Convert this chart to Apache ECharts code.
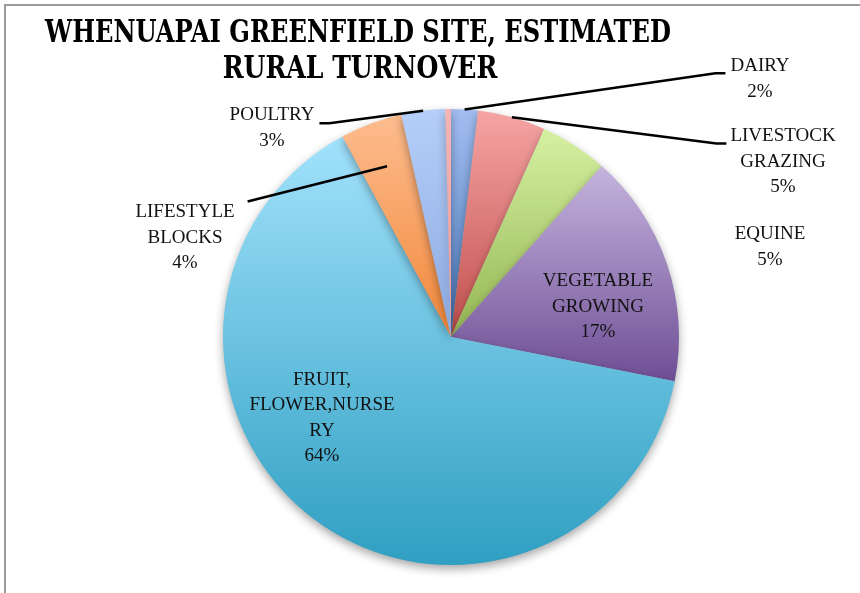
<!DOCTYPE html>
<html><head><meta charset="utf-8">
<script src="https://cdn.jsdelivr.net/npm/echarts@6/dist/echarts.min.js"></script>
<style>
html,body{margin:0;padding:0;background:#fff;}
#frame{position:absolute;left:4px;top:4px;width:900px;height:640px;border-left:2px solid #9a9a9a;border-top:2px solid #9a9a9a;}
#chart{position:absolute;left:0;top:0;width:860px;height:593px;}
</style></head>
<body>
<div id="frame"></div>
<div id="chart"></div>
<script>
// Data
var categories = ["DAIRY", "LIVESTOCK\nGRAZING", "EQUINE", "VEGETABLE\nGROWING", "FRUIT,\nFLOWER,NURSE\nRY", "LIFESTYLE\nBLOCKS", "POULTRY", "OTHER"];
var values = [1.9, 4.8, 4.8, 16.6, 64.0, 4.4, 3.1, 0.4];
var titleLines = ["WHENUAPAI GREENFIELD SITE, ESTIMATED", "RURAL TURNOVER"];

// Styles / layout
var CX = 451, CY = 337, R = 228;
var topColors = ["#a3bdf0", "#f6a4a4", "#d6f0a2", "#c5b4de", "#a2e2fc", "#fdbc8e", "#b5cffa", "#f6b4b4"];
var bottomColors = ["#4a7cc0", "#c0504d", "#94b652", "#6e4e95", "#2f9fc2", "#f2883a", "#8ca9e0", "#e89a9a"];
var showLine = [true, true, false, false, false, true, true, false];
var showLabel = [true, true, true, true, true, true, true, false];
var labelPos = [[760, 79], [783, 162], [770, 247], [598, 307], [322, 418], [185, 238], [272, 128], [0, 0]];
// leader line: [label side of anchor, gap, dy from first line middle, horizontal tail, anchor radius factor]
var leader = [
  ['right', 5, 7, 10, 1.0],
  ['right', 4, 7, 10, 1.0],
  null, null, null,
  ['left', 13, -11, 0, 0.8],
  ['left', 5, 8, 10, 1.0],
  null
];
var LINE_H = 25.5;

var total = values.reduce(function (a, b) { return a + b; }, 0);
var midAngles = [];
(function () {
  var acc = 0;
  values.forEach(function (v) { midAngles.push((acc + v / 2) / total * 2 * Math.PI); acc += v; });
})();

var chart = echarts.init(document.getElementById('chart'), null, {renderer: 'canvas'});

// colored sectors (no labels)
var sectorData = categories.map(function (c, i) {
  return {
    name: c,
    value: values[i],
    itemStyle: {
      color: new echarts.graphic.LinearGradient(0, 0, 0, 1, [
        {offset: 0, color: topColors[i]},
        {offset: 1, color: bottomColors[i]}
      ])
    }
  };
});
// transparent overlay carrying labels + leader lines above all sectors
var labelData = categories.map(function (c, i) {
  return {
    name: c,
    value: values[i],
    label: {show: showLabel[i]},
    labelLine: {show: showLine[i]}
  };
});

var titleFont = '"DejaVu Serif Condensed", "DejaVu Serif", serif';

chart.setOption({
  animation: false,
  backgroundColor: 'transparent',
  graphic: [
    {type: 'text', x: 358, y: 33.5, scaleX: 0.867, silent: true,
     style: {text: titleLines[0], fill: '#000', fontFamily: titleFont, fontWeight: 'bold', fontSize: 31, textAlign: 'center', textVerticalAlign: 'middle'}},
    {type: 'text', x: 360, y: 69.5, scaleX: 0.9, silent: true,
     style: {text: titleLines[1], fill: '#000', fontFamily: titleFont, fontWeight: 'bold', fontSize: 31, textAlign: 'center', textVerticalAlign: 'middle'}}
  ],
  series: [{
    type: 'pie',
    z: 2,
    center: [CX, CY],
    radius: R,
    startAngle: 90,
    clockwise: true,
    silent: true,
    data: sectorData,
    itemStyle: {
      borderWidth: 0,
      shadowBlur: 10,
      shadowOffsetY: 4,
      shadowColor: 'rgba(0,0,0,0.35)'
    },
    label: {show: false},
    labelLine: {show: false}
  }, {
    type: 'pie',
    z: 5,
    center: [CX, CY],
    radius: R,
    startAngle: 90,
    clockwise: true,
    silent: true,
    percentPrecision: 0,
    avoidLabelOverlap: false,
    data: labelData,
    itemStyle: {color: 'rgba(0,0,0,0)', borderWidth: 0},
    label: {
      position: 'outside',
      formatter: '{b}\n{d}%',
      fontFamily: '"Liberation Serif", "DejaVu Serif", serif',
      fontSize: 19,
      lineHeight: LINE_H,
      color: '#111',
      align: 'center'
    },
    labelLine: {
      length: 10,
      length2: 10,
      lineStyle: {color: '#000', width: 2.5}
    },
    labelLayout: function (p) {
      var i = p.dataIndex;
      var pos = labelPos[i];
      var out = {x: pos[0], y: pos[1], align: 'center', verticalAlign: 'middle'};
      var L = leader[i];
      if (L) {
        var w = p.labelRect.width, h = p.labelRect.height;
        var a = midAngles[i];
        var anchor = [CX + R * L[4] * Math.sin(a), CY - R * L[4] * Math.cos(a)];
        var firstMid = pos[1] - h / 2 + LINE_H / 2;
        var ey = firstMid + L[2];
        var end, bend;
        if (L[0] === 'right') {
          end = [pos[0] - w / 2 - L[1], ey];
          bend = [end[0] - L[3], ey];
        } else {
          end = [pos[0] + w / 2 + L[1], ey];
          bend = [end[0] + L[3], ey];
        }
        out.labelLinePoints = [anchor, bend, end];
      }
      return out;
    }
  }]
});
</script>
</body></html>
